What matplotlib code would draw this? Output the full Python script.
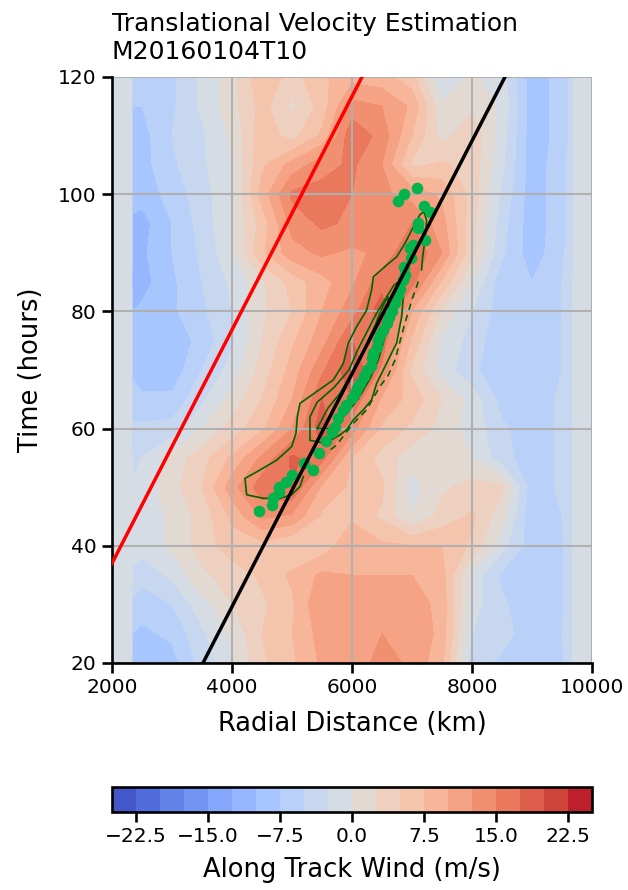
import numpy as np
import matplotlib
matplotlib.use('Agg')
import matplotlib.pyplot as plt

# grade do campo (km x horas)
dist_km = [2340, 2500, 3000, 3500, 4000, 4500, 5000, 5500, 6000,
           6500, 7000, 7500, 8000, 8500, 9000, 9500, 9680]
horas = [120, 115, 110, 105, 100, 95, 90, 85, 80, 75, 70,
         65, 60, 55, 50, 45, 40, 35, 30, 25, 20]

vento = np.array([
    [-6.5, -7, -5.5, -2, 1.5, 7, 4, 7, 9, 8.5, 6, -2.5, 0.5, -1.5, -9, -6.5, -4],
    [-7.5, -7.5, -5.5, -2, 1.5, 6, 2, 6, 13.5, 12.5, 9.5, 0.5, 2, -0.5, -9, -6.5, -4],
    [-8.5, -8.5, -5, -3, 0.5, 6.5, 4, 8, 17, 14, 7.5, 1.5, 4.5, -1.5, -9, -6.5, -4],
    [-9, -8.5, -5.5, -3, 0, 7, 11, 14, 15.5, 12.5, 4.5, 5.5, 4, -2, -9, -6, -3.5],
    [-9, -9, -6.5, -3.5, -0.5, 8.5, 15.5, 16, 15, 13, 11.5, 9.5, 4, -3, -9, -6, -3.5],
    [-10.5, -11, -7.5, -4, 0, 6, 13.5, 15.5, 14.5, 13, 15, 11, 3.5, -4, -9, -6, -3.5],
    [-10.5, -10.5, -7.5, -4.5, -0.5, 7, 11.5, 13, 12, 13, 17.5, 12.5, 3, -4.5, -9, -5.5, -3.5],
    [-11, -11, -8, -5, -2, 2, 6, 9, 12, 16.5, 16, 7, 0, -6.5, -7.5, -5, -3],
    [-10, -9.5, -8, -5.5, -2.5, 2, 5, 10, 14, 19, 10, 2, -2.5, -6.5, -7, -5, -2.5],
    [-9.5, -9.5, -9.5, -6.5, -3, 2.5, 7, 11.5, 17.5, 16.5, 7, -0.5, -3.5, -7, -7, -5, -2.5],
    [-8, -9, -9, -5, -1.5, 3.5, 8.5, 14.5, 19.5, 14.5, 4.5, -1, -4.5, -6.5, -7, -5, -2.5],
    [-6.5, -7, -7, -3, 1, 5, 10, 17.5, 17.5, 9.5, 6.5, 2.5, -1, -6, -6.5, -4.5, -2.5],
    [-4.5, -4.5, -4, 0, 3.5, 7, 12.5, 19, 13.5, 7, 4.5, 1.5, -1, -4.5, -6.5, -4.5, -2.5],
    [-3.5, -2.5, 1, 4, 8, 13, 18, 16, 7.5, 4, 1, 1, 0, -4, -6.5, -4.5, -2.5],
    [-2, -1.5, 1.5, 5, 11.5, 16.5, 17.5, 9.5, 7, 5.5, -1, 2, 3.5, 3, -6.5, -4.5, -2.5],
    [-2, -1.5, 0.5, 3.5, 8, 13, 12, 7, 7, 4.5, 0, 3.5, 5.5, 1, -7, -5, -2.5],
    [-1.5, -1.5, 0.5, 3.5, 6.5, 6.5, 5, 6, 9.5, 8, 7.5, 7.5, 4.5, -1.5, -6.5, -5.5, -2.5],
    [-3, -4, -2, 2, 3.5, 5.5, 8, 10.5, 10, 10, 10, 8.5, -1, -5.5, -7, -5.5, -2.5],
    [-5.5, -6.5, -5, -1, 2.5, 4.5, 7, 12.5, 11, 11.5, 11.5, 9, -1.5, -4.5, -7, -5.5, -2.5],
    [-7.5, -8, -7, -3, 0.5, 5, 7.5, 11, 10.5, 12.5, 12.5, 9, -2.5, -4, -6.5, -5, -2.5],
    [-8.5, -9, -8.5, -4, -0.5, 4.5, 7, 10.5, 11, 13.5, 12, 8, -4, -5.5, -6.5, -5.5, -2.5],
])

# retas de velocidade de translacao (km, horas)
reta_vermelha_x = [2000, 6167]
reta_vermelha_y = [37, 120]
reta_preta_x = [3517, 8550]
reta_preta_y = [20, 120]

# pontos verdes
pontos_x = [4456, 4672, 4678, 4789, 4789, 4900, 5006, 5200, 5344, 5456, 5567,
            5661, 5717, 5772, 5856, 5900, 5994, 6050, 6078, 6133, 6206, 6244,
            6311, 6328, 6356, 6411, 6439, 6467, 6522, 6578, 6622, 6661, 6717,
            6772, 6800, 6856, 6883, 6867, 6978, 6967, 7022, 7106, 7106, 7217,
            7200, 7300, 6772, 6872, 7089]
pontos_y = [46.0, 47.0, 48.1, 49.2, 50.1, 50.9, 52.0, 54.1, 53.0, 55.8, 57.8,
            59.5, 60.3, 61.8, 63.2, 64.0, 65.2, 66.0, 66.9, 67.7, 68.9, 70.0,
            70.6, 72.0, 72.9, 74.0, 75.1, 76.0, 76.8, 78.0, 79.1, 80.0, 81.4,
            82.8, 83.9, 85.4, 86.2, 87.6, 89.1, 90.8, 91.3, 94.2, 95.0, 92.2,
            98.0, 97.0, 98.9, 100.0, 101.0]

# contornos verdes (tracados da figura)
cont_ext_x = [5189, 5133, 4994, 4800, 4522, 4245, 4217, 4411, 4744, 4994, 5067,
              5089, 5133, 5411, 5689, 5856, 5939, 6078, 6244, 6328, 6356, 6578,
              6744, 6883, 7022, 7133, 7200, 7244, 7217, 7178, 7161]
cont_ext_y = [51.8, 50.1, 48.7, 48.1, 48.1, 48.7, 51.5, 52.6, 54.6, 56.9, 59.2,
              62.0, 64.3, 66.3, 68.3, 71.1, 74.6, 77.4, 80.2, 83.7, 85.9, 87.9,
              89.3, 91.6, 94.4, 96.5, 97.0, 95.6, 92.2, 89.3, 87.1]
cont_med_x = [5800, 5550, 5300, 5300, 5420, 5700, 5950, 6100, 6250, 6400, 6550,
              6700, 6828, 6856, 6828, 6744, 6633, 6522, 6411, 6328, 6189, 6022,
              5911, 5800]
cont_med_y = [58.9, 57.5, 58, 62, 64.5, 67, 70, 73.5, 76.5, 79.5, 82, 84.5,
              85.4, 82.5, 79.1, 74.6, 72.3, 70.0, 67.7, 64.9, 63.2, 61.5, 59.8,
              58.9]
cont_int_x = [5420, 5600, 5800, 6000, 6200, 6380, 6520, 6600, 6620, 6560, 6450,
              6300, 6100, 5900, 5650, 5420]
cont_int_y = [60, 63.5, 66, 69.5, 73.5, 77.5, 81, 82.5, 80, 76, 72, 68.5, 65,
              62.5, 60, 60]
cont_trac_x = [7106, 7000, 6883, 6717, 6600, 6467, 6244, 6022, 5744, 5633]
cont_trac_y = [85.1, 82, 78, 71.7, 69, 67.2, 63.2, 60.9, 57.2, 56.3]

# zeros fora da faixa com dados
x_full = np.concatenate(([2000, 2320], dist_km, [9700, 10000]))
z_full = np.pad(vento, ((0, 0), (2, 2)))
y_full = np.array(horas)[::-1]
z_full = z_full[::-1]

niveis = np.arange(-25, 25.1, 2.5)

fig = plt.figure(figsize=(6.28, 8.90), dpi=100)
ax = fig.add_axes([0.1783, 0.2551, 0.7643, 0.6584])

cf = ax.contourf(x_full, y_full, z_full, levels=niveis, cmap='coolwarm')

ax.plot(cont_ext_x, cont_ext_y, color='darkgreen', lw=1.2, zorder=3)
ax.plot(cont_med_x, cont_med_y, color='darkgreen', lw=1.2, zorder=3)
ax.plot(cont_int_x, cont_int_y, color='darkgreen', lw=1.2, zorder=3)
ax.plot(cont_trac_x, cont_trac_y, color='darkgreen', lw=1.2, ls=(0, (4, 3)), zorder=3)

ax.scatter(pontos_x, pontos_y, s=70, color='#05b34c', zorder=4, linewidths=0)

ax.plot(reta_vermelha_x, reta_vermelha_y, color='red', lw=2.5, zorder=5)
ax.plot(reta_preta_x, reta_preta_y, color='black', lw=2.5, zorder=5)

ax.set_xlim(2000, 10000)
ax.set_ylim(20, 120)
ax.set_xticks(range(2000, 10001, 2000))
ax.set_yticks(range(20, 121, 20))
ax.grid(True, color='#b0b0b0', lw=1.5)
ax.spines['top'].set_visible(False)
ax.spines['right'].set_visible(False)
ax.spines['left'].set_linewidth(1.9)
ax.spines['bottom'].set_linewidth(1.9)
ax.tick_params(labelsize=14.5, length=7.5, width=1.9)

ax.set_xlabel('Radial Distance (km)', fontsize=18.5, labelpad=10)
ax.set_ylabel('Time (hours)', fontsize=18.5, labelpad=10)
ax.set_title('Translational Velocity Estimation\nM20160104T10', loc='left',
             fontsize=18, pad=13)

cax = fig.add_axes([0.1783, 0.0876, 0.7643, 0.0281])
cb = fig.colorbar(cf, cax=cax, orientation='horizontal',
                  ticks=[-22.5, -15, -7.5, 0, 7.5, 15, 22.5])
cb.set_label('Along Track Wind (m/s)', fontsize=18.5, labelpad=8)
cb.outline.set_linewidth(1.9)
cax.tick_params(labelsize=14.5, length=7.5, width=1.9)

fig.savefig('out.png', dpi=100)
